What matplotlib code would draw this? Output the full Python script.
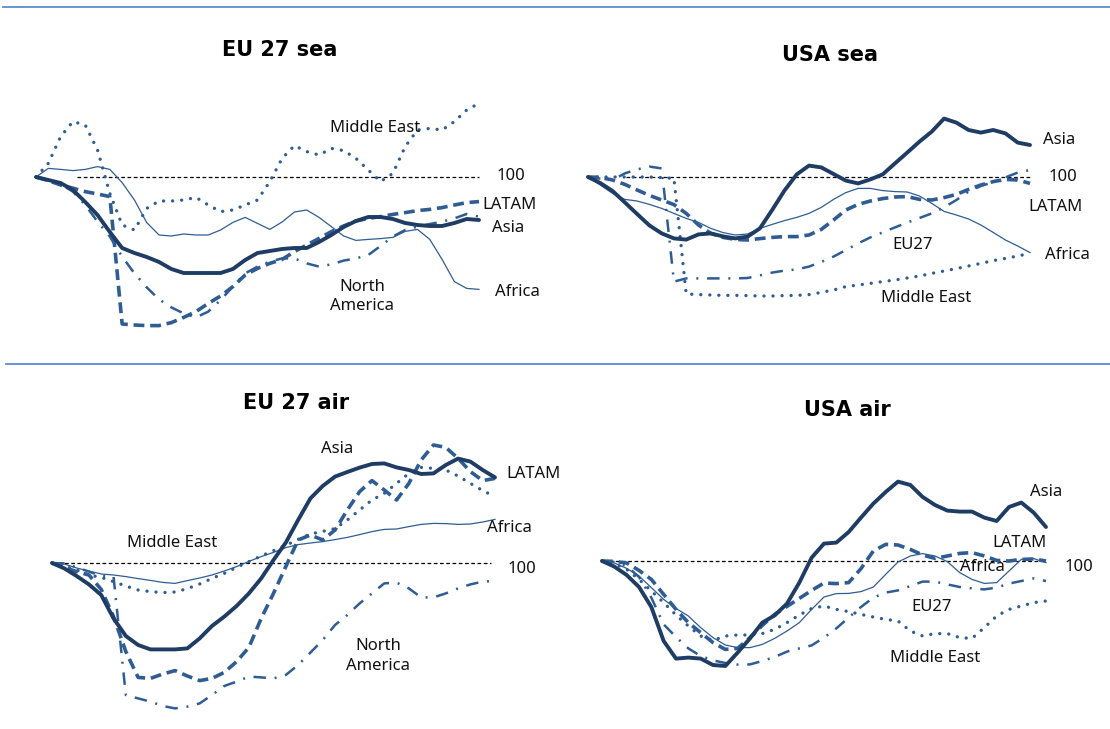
import matplotlib
matplotlib.use("Agg")
import matplotlib.pyplot as plt
from matplotlib.lines import Line2D
import numpy as np

# ---------------- data (index, start = 100) ----------------
months = list(range(37))

eu_sea_asia = [100, 98.5, 97, 93.5, 87.5, 81, 72.5, 64.5, 62, 60, 57.5, 54, 52, 52, 52, 52, 54, 58.5, 62, 63,
               64, 64.5, 64.5, 67.5, 71, 75, 78, 80, 80, 79, 77, 76, 75.5, 75.5, 77, 79, 78.5]
eu_sea_latam = [100, 98.2, 96, 94.4, 92.7, 91.5, 90.2, 26.5, 26, 25.7, 25.7, 27.2, 29.8, 32.7, 36.8, 40.5, 45.2,
                51, 54.3, 56.8, 58.8, 62.7, 66, 69.3, 72.7, 75.5, 78, 79.3, 80.2, 81.3, 82.2, 83.2, 83.8, 84.7, 86,
                87.2, 87.7]
eu_sea_me = [100, 106.8, 120.2, 127.7, 126, 113.5, 91.8, 76, 73.5, 84.3, 88, 88, 88.5, 89.8, 86, 82.7, 83.5, 86,
             88.5, 97.7, 109.3, 115.7, 112.7, 111, 114.3, 113.2, 109.3, 103.5, 97.7, 101.8, 115.2, 123.5, 124.3,
             123.5, 127.7, 133.5, 136.8]
eu_sea_africa = [100, 104.3, 103.8, 103.2, 103.8, 105.2, 103.8, 97.2, 88.5, 77.2, 71, 70.5, 71.5, 71, 71, 73.5,
                 77.3, 79.8, 76.8, 73.8, 77.5, 82.5, 83.5, 79.8, 75.2, 70.5, 68.3, 68.8, 69.2, 69.8, 72.8, 73.8,
                 68.8, 58.8, 47.7, 44.3, 43.8]
eu_sea_na = [100, 98.2, 96.4, 92.7, 86, 77.7, 70.2, 60.2, 51.8, 44.8, 38.8, 34.8, 31.8, 29.8, 32.7, 38.5, 45.2,
             51.8, 55.2, 57.7, 59.3, 59.3, 56.8, 55.2, 56.3, 58.2, 59.3, 61, 65.5, 70.2, 73.5, 75.2, 76.5, 77.7,
             79.3, 81.5, 80.2]

us_sea_asia = [100, 97, 93, 87.3, 81.5, 75.8, 71.8, 69.3, 68.7, 71.3, 71.8, 70.3, 69.3, 70.2, 74.3, 83.5, 93.2,
               101.3, 105.7, 104.8, 101.5, 98.2, 96.8, 98.8, 101.3, 106.8, 112.2, 117.7, 122.7, 129.2, 127.2,
               123.5, 122.2, 123.5, 121.8, 117.2, 116]
us_sea_latam = [100, 99.8, 98.5, 96.3, 93.5, 90.8, 88.5, 86.2, 81.8, 76, 71.8, 69.8, 68.8, 68.5, 69.2, 69.8,
                70.2, 70.2, 71, 73.8, 78.5, 83.5, 86.3, 88, 89.2, 90, 90.2, 88.8, 88.5, 89.7, 91.3, 93.8, 96,
                97.7, 98.8, 98.5, 96.8]
us_sea_africa = [100, 96, 91.8, 88.8, 88, 86.3, 84.3, 81.8, 79.3, 77.3, 74.3, 72.2, 71, 71.5, 74.3, 76.3, 78.2,
                 79.8, 81.8, 84.8, 88.8, 92.2, 94.3, 94.3, 93.2, 92.7, 92.5, 90.5, 86.8, 82.8, 81, 79, 76, 72.3,
                 68.5, 65.5, 62.2]
us_sea_me = [100, 100, 100, 100, 100, 100, 99.7, 99.3, 41.5, 41.2, 41, 40.8, 40.8, 40.7, 40.5, 40.5, 40.7, 40.8,
             41.2, 42.3, 43.5, 45.2, 46, 46.8, 47.7, 48.5, 49.5, 50.5, 51.8, 53, 54.2, 55.5, 56.8, 58.2, 59.3,
             60.5, 61.8]
us_sea_eu27 = [100, 99.2, 98.5, 101.8, 103.8, 105.2, 104.3, 47.7, 49.3, 49.3, 49.3, 49.3, 49.3, 49.5, 50.8, 52.2,
               53.2, 53.8, 55.2, 57.5, 60.2, 63.5, 66.8, 69.8, 72.3, 74.8, 77.2, 79.5, 81.8, 84.8, 88.5, 92.7,
               95.5, 97.5, 99.8, 102.2, 103.5]

eu_air_asia = [100, 97.3, 93.5, 89.3, 84, 72.3, 63.5, 59, 56.8, 56.8, 56.8, 57.3, 62.3, 68.5, 73.2, 78.5, 84.8,
               92.3, 101.5, 110.2, 121.5, 132.3, 138.5, 143.2, 145.5, 147.7, 149.5, 149.8, 147.8, 146.5, 144.5,
               144.8, 149, 152.2, 150.7, 146.5, 142.8]
eu_air_latam = [100, 97.8, 95.7, 94, 86.8, 73.2, 55.7, 42.8, 42.3, 44.5, 46.2, 43.5, 41.2, 42.3, 45.3, 50.7,
                57.8, 72.3, 84.8, 98.2, 111.5, 114, 111.5, 116.5, 126.5, 135.7, 141.2, 136.5, 131.5, 139.8, 151.5,
                159, 157.8, 152.3, 145.7, 141.2, 142.3]
eu_air_me = [100, 98.5, 96.5, 94, 92.8, 90.7, 88.5, 86.5, 85.7, 85.2, 85.5, 87.2, 89.5, 92.3, 94.8, 97.8, 100.7,
             103.5, 106.2, 108.8, 111.8, 114.5, 115.8, 117.2, 121.5, 126.5, 131.5, 134.8, 139.8, 144.8, 147.8,
             147.3, 146.5, 143.5, 139.8, 136.2, 133.2]
eu_air_africa = [100, 99.5, 97.5, 96, 94.5, 94, 93.2, 92.2, 91.3, 90.3, 89.8, 91.2, 92.5, 94, 96, 98.2, 100.8,
                 103.2, 105.3, 107.7, 109.2, 110, 110.7, 111.7, 112.8, 114.2, 115.7, 116.8, 117, 118.2, 119.3,
                 119.8, 119.7, 119.3, 119.5, 120.5, 121.8]
eu_air_na = [100, 99.8, 97.8, 95.7, 93.5, 93.2, 34, 32.3, 30.7, 28.5, 27.3, 28.2, 29.8, 34, 38.5, 40.7, 43.2,
             42.8, 42.3, 44, 49, 55.2, 61.5, 69, 74, 79.8, 84.8, 89.8, 90.2, 87.3, 82.8, 82.8, 84.8, 87.3, 89.3,
             90.7, 91]

us_air_asia = [100, 97.2, 93, 87, 77, 60, 51.2, 51.7, 51.2, 48, 47.5, 54.2, 61.3, 69.2, 72.8, 78.7, 89.2, 101.7,
               108.7, 109.2, 114.5, 121.7, 128.7, 134.5, 139.7, 138, 132, 128, 125.2, 124.7, 124.7, 121.7, 120,
               127, 129.2, 124.2, 117]
us_air_latam = [100, 99.8, 99, 95.3, 90.8, 83.3, 75.8, 69.2, 64.2, 59.2, 55.8, 56.3, 61.7, 67.8, 73.3, 77.3,
                81.3, 85.3, 89, 88.7, 89.2, 96.2, 105, 108.3, 108, 105.8, 103, 101.3, 102.5, 103.8, 104.2, 102.5,
                100.3, 100, 100.8, 101, 100]
us_air_africa = [100, 99, 96.3, 92.5, 86.7, 80.8, 76.3, 72.5, 66.7, 61.7, 58, 56.7, 56.7, 58.3, 61.3, 65, 69.2,
                 75.8, 82, 83.7, 83.8, 84.7, 87, 93.3, 99.5, 102.5, 103.7, 102.5, 99.7, 94.2, 90.8, 88.8, 89.2, 95,
                 100.8, 101.2, 99.2]
us_air_me = [100, 98.7, 95.8, 90.8, 85, 79.2, 73, 67.5, 62.5, 60.3, 62.5, 63, 63, 63.7, 65.8, 69.2, 73, 76.3,
             77.5, 75.8, 74.7, 73.3, 72, 70.8, 70, 65, 62.5, 63.7, 63.7, 61.7, 61.3, 66.7, 72.5, 75.8, 77.5, 79.2,
             80]
us_air_eu27 = [100, 99.5, 97.5, 92, 81.7, 68.3, 62, 56.3, 52.5, 50.3, 49, 48.2, 48.3, 50, 52, 54.7, 56.3, 57.8,
               61.7, 66.3, 71.7, 77, 81.7, 84.2, 85.3, 87.5, 89.7, 89.7, 88.3, 87, 86.3, 85.8, 86.7, 88.7, 90, 91.3,
               90]

titles = ["EU 27 sea", "USA sea", "EU 27 air", "USA air"]

# ---------------- styles ----------------
DARK = "#1f3d64"
MID = "#2f5d93"
styles = {
    "africa": dict(color=MID, lw=0.9, ls="-"),
    "dashdot": dict(color=MID, lw=1.8, ls=(0, (5, 3.5, 0.8, 3.5)), dash_capstyle="butt"),
    "me": dict(color=MID, lw=2.4, ls=(0, (0.01, 2.7)), dash_capstyle="round"),
    "latam": dict(color=MID, lw=2.6, ls=(0, (3, 1.6)), dash_capstyle="butt"),
    "asia": dict(color=DARK, lw=2.8, ls="-", solid_capstyle="round", solid_joinstyle="round"),
}

W, H = 1110, 729
PX_PER_UNIT = 2.0
fig = plt.figure(figsize=(W / 100, H / 100), dpi=100)
fig.patch.set_facecolor("white")

panels = [
    dict(x0=36, x1=479, y100=177, base=(3.3, 36), title_xy=(280, 50),
         series=[("africa", eu_sea_africa), ("dashdot", eu_sea_na), ("me", eu_sea_me),
                 ("latam", eu_sea_latam), ("asia", eu_sea_asia)],
         labels=[("Middle East", 375, 128), ("100", 511, 176), ("LATAM", 510, 205), ("Asia", 508, 228),
                 ("Africa", 517, 292), ("North\nAmerica", 362, 296)]),
    dict(x0=588, x1=1030, y100=177, base=(3.1, 36), title_xy=(830, 55),
         series=[("africa", us_sea_africa), ("dashdot", us_sea_eu27), ("me", us_sea_me),
                 ("latam", us_sea_latam), ("asia", us_sea_asia)],
         labels=[("Asia", 1059, 140), ("100", 1063, 177), ("LATAM", 1055, 207), ("EU27", 913, 245),
                 ("Africa", 1067, 255), ("Middle East", 926, 298)]),
    dict(x0=52, x1=495, y100=563, base=(0, 35.7), title_xy=(296, 403),
         series=[("africa", eu_air_africa), ("dashdot", eu_air_na), ("me", eu_air_me),
                 ("latam", eu_air_latam), ("asia", eu_air_asia)],
         labels=[("Asia", 337, 449), ("LATAM", 533, 474), ("Africa", 509, 528), ("Middle East", 172, 543),
                 ("100", 522, 569), ("North\nAmerica", 378, 656)]),
    dict(x0=602, x1=1046, y100=561, base=(0.6, 36), title_xy=(847, 410),
         series=[("africa", us_air_africa), ("dashdot", us_air_eu27), ("me", us_air_me),
                 ("latam", us_air_latam), ("asia", us_air_asia)],
         labels=[("Asia", 1046, 492), ("LATAM", 1020, 543), ("Africa", 982, 567), ("100", 1079, 567),
                 ("EU27", 932, 607), ("Middle East", 935, 658)]),
]

for title, p in zip(titles, panels):
    ax = fig.add_axes([0, 0, 1, 1])
    ax.patch.set_alpha(0)
    dx = (p["x1"] - p["x0"]) / (len(months) - 1)
    ax.set_xlim(-p["x0"] / dx, (W - p["x0"]) / dx)
    ax.set_ylim(100 - (H - p["y100"]) / PX_PER_UNIT, 100 + p["y100"] / PX_PER_UNIT)
    ax.axis("off")
    ax.hlines(100, p["base"][0], p["base"][1], colors="black", lw=0.9, linestyles=(0, (3, 2)))
    for key, vals in p["series"]:
        st = dict(styles[key])
        ls = st.pop("ls")
        ax.plot(months, vals, linestyle=ls, **st)
    fig.text(p["title_xy"][0] / W, 1 - p["title_xy"][1] / H, title, ha="center", va="center",
             fontsize=15, fontweight="bold", family="DejaVu Sans", color="black")
    for s, px, py in p["labels"]:
        fig.text(px / W, 1 - py / H, s, ha="center", va="center", fontsize=12,
                 family="Noto Sans", color="#111111", linespacing=1.25)

# separators
fig.add_artist(Line2D([3 / W, 1], [1 - 7 / H, 1 - 7 / H], color="#5b8bcf", lw=1.3))
fig.add_artist(Line2D([6 / W, 1], [1 - 364 / H, 1 - 364 / H], color="#5b8bcf", lw=1.3))

fig.savefig("out.png", dpi=100, facecolor="white")
